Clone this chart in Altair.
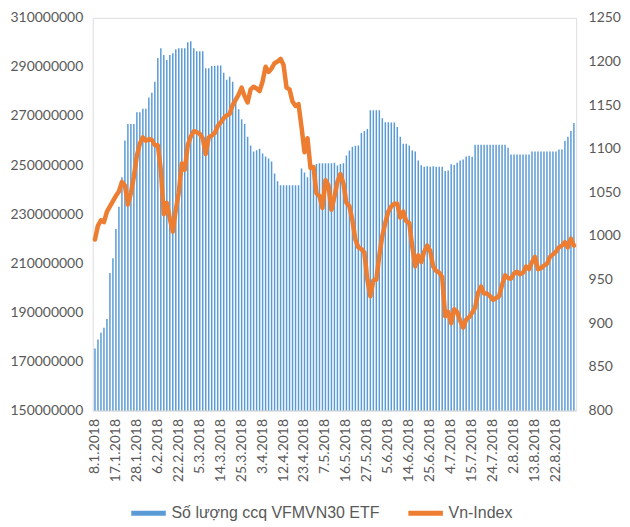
import altair as alt
import pandas as pd

# X-axis tick labels (every 7th trading day)
x_labels = ["8.1.2018", "17.1.2018", "28.1.2018", "6.2.2018", "22.2.2018", "5.3.2018",
            "14.3.2018", "25.3.2018", "3.4.2018", "12.4.2018", "23.4.2018", "7.5.2018",
            "16.5.2018", "27.5.2018", "5.6.2018", "14.6.2018", "25.6.2018", "4.7.2018",
            "15.7.2018", "24.7.2018", "2.8.2018", "13.8.2018", "22.8.2018"]

# Số lượng ccq VFMVN30 ETF (millions of units)
etf_units_m = [
    175.3, 178.9, 181.7, 183.7, 187.3, 206.0, 212.0, 224.0, 233.0, 245.0,
    260.0, 266.7, 266.7, 266.7, 271.5, 271.5, 273.0, 273.0, 277.5, 279.5,
    284.0, 293.6, 297.6, 294.8, 292.8, 294.8, 295.6, 297.2, 297.6, 297.6,
    297.6, 300.0, 300.4, 297.6, 296.4, 296.4, 296.4, 289.5, 289.5, 290.4,
    290.4, 290.6, 290.6, 287.6, 284.8, 286.0, 284.0, 277.5, 272.7, 268.7,
    266.7, 261.5, 258.0, 255.5, 256.0, 256.7, 254.7, 253.5, 252.7, 251.5,
    246.6, 243.4, 241.8, 241.8, 241.8, 241.8, 241.8, 241.8, 241.8, 248.6,
    247.0, 245.0, 249.3, 250.0, 250.4, 250.7, 250.7, 250.7, 250.7, 250.7,
    251.0, 249.8, 250.4, 250.7, 253.9, 255.9, 257.5, 257.9, 258.0, 263.1,
    263.9, 264.7, 272.3, 272.3, 272.3, 272.3, 269.1, 267.5, 267.4, 267.3,
    267.3, 265.5, 261.5, 258.7, 258.7, 258.0, 255.9, 255.5, 251.9, 249.9,
    249.3, 249.5, 249.3, 249.5, 249.3, 249.3, 249.3, 247.6, 247.8, 250.3,
    250.0, 251.0, 251.9, 252.3, 253.5, 253.8, 253.4, 258.3, 258.3, 258.3,
    258.3, 258.3, 258.3, 258.3, 258.3, 258.3, 258.3, 258.3, 257.1, 254.3,
    254.3, 254.3, 254.3, 254.3, 254.3, 254.3, 255.5, 255.5, 255.5, 255.5,
    255.5, 255.5, 255.5, 255.5, 255.5, 256.3, 256.3, 259.9, 261.5, 263.9,
    267.1,
]

# Vn-Index
vn_index = [
    996, 1012, 1018, 1016, 1028, 1034, 1040, 1046, 1051, 1062,
    1058, 1036, 1049, 1068, 1092, 1106, 1113, 1109, 1111, 1110,
    1104, 1104, 1076, 1025, 1038, 1020, 1005, 1030, 1050, 1083,
    1076, 1104, 1114, 1120, 1119, 1117, 1112, 1094, 1113, 1115,
    1118, 1126, 1130, 1135, 1138, 1140, 1150, 1156, 1162, 1170,
    1160, 1153, 1168, 1171, 1169, 1166, 1177, 1194, 1188, 1192,
    1198, 1200, 1203, 1196, 1170, 1168, 1154, 1149, 1151, 1125,
    1096, 1112, 1078, 1079, 1049, 1046, 1032, 1064, 1058, 1030,
    1045, 1062, 1071, 1060, 1038, 1034, 1018, 996, 987, 985,
    981, 950, 931, 949, 950, 978, 1000, 1015, 1028, 1034,
    1037, 1037, 1021, 1028, 1017, 1015, 988, 965, 978, 970,
    982, 989, 983, 965, 960, 958, 953, 908, 913, 900,
    916, 913, 903, 895, 904, 907, 912, 918, 935, 942,
    934, 934, 931, 927, 929, 931, 944, 955, 952, 951,
    957, 959, 956, 958, 965, 962, 970, 976, 962, 963,
    966, 968, 976, 979, 982, 987, 989, 993, 987, 997,
    989,
]

left_ticks = [150000000, 170000000, 190000000, 210000000, 230000000,
              250000000, 270000000, 290000000, 310000000]
right_ticks = [800, 850, 900, 950, 1000, 1050, 1100, 1150, 1200, 1250]

series_names = ["Số lượng ccq VFMVN30 ETF", "Vn-Index"]
series_colors = ["#5B9BD5", "#ED7D31"]

n = len(etf_units_m)
df = pd.DataFrame({
    "i": list(range(n)),
    "units": [v * 1_000_000 for v in etf_units_m],
    "vn": vn_index,
    "series_bar": [series_names[0]] * n,
    "series_line": [series_names[1]] * n,
})

label_step = 7
label_arr = "[" + ",".join("'" + l + "'" for l in x_labels) + "]"
tick_positions = [k * label_step for k in range(len(x_labels))]

FONT = "Lato"
LEGEND_FONT = "Liberation Sans"
GREY = "#595959"

x_enc = alt.X(
    "i:O",
    scale=alt.Scale(paddingInner=0.5, paddingOuter=0.5),
    axis=alt.Axis(
        values=tick_positions,
        labelExpr=label_arr + "[datum.value/" + str(label_step) + "]",
        labelAngle=-90,
        title=None,
        ticks=False,
        domainColor="#D9D9D9",
        domainWidth=1,
        labelFont=FONT,
        labelFontSize=14,
        labelColor=GREY,
        labelPadding=8,
    ),
)

color_scale = alt.Scale(domain=series_names, range=series_colors)
legend = alt.Legend(
    title=None,
    orient="bottom",
    direction="horizontal",
    padding=36,
    offset=-25,
    symbolType="stroke",
    symbolStrokeWidth=5,
    symbolSize=1200,
    labelFont=LEGEND_FONT,
    labelFontSize=16,
    labelColor=GREY,
    labelLimit=0,
    columnPadding=18,
    labelOffset=3,
)

bars = alt.Chart(df).mark_bar(clip=True).encode(
    x=x_enc,
    y=alt.Y(
        "units:Q",
        scale=alt.Scale(domain=[150000000, 310000000], nice=False, zero=False),
        axis=alt.Axis(
            values=left_ticks, format="d", grid=False, domain=False, ticks=False,
            title=None, labelFont=FONT, labelFontSize=14, labelColor=GREY, labelPadding=10,
        ),
    ),
    color=alt.Color("series_bar:N", scale=color_scale, legend=legend),
)

line = alt.Chart(df).mark_line(strokeWidth=4.5, strokeJoin="round", strokeCap="round").encode(
    x=x_enc,
    y=alt.Y(
        "vn:Q",
        scale=alt.Scale(domain=[800, 1250], nice=False, zero=False),
        axis=alt.Axis(
            orient="right", values=right_ticks, format="d", grid=False, domain=False,
            ticks=False, title=None, labelFont=FONT, labelFontSize=14, labelColor=GREY,
            labelPadding=12,
        ),
    ),
    color=alt.Color("series_line:N", scale=color_scale, legend=legend),
)

chart = alt.layer(bars, line).resolve_scale(y="independent").properties(
    width=485,
    height=394,
    padding={"left": 85, "top": 9, "right": 46, "bottom": 115},
    autosize=alt.AutoSizeParams(type="none"),
).configure_view(stroke=None).configure(background="white")

chart.save("out.html", embed_options={"renderer": "svg", "actions": False})
